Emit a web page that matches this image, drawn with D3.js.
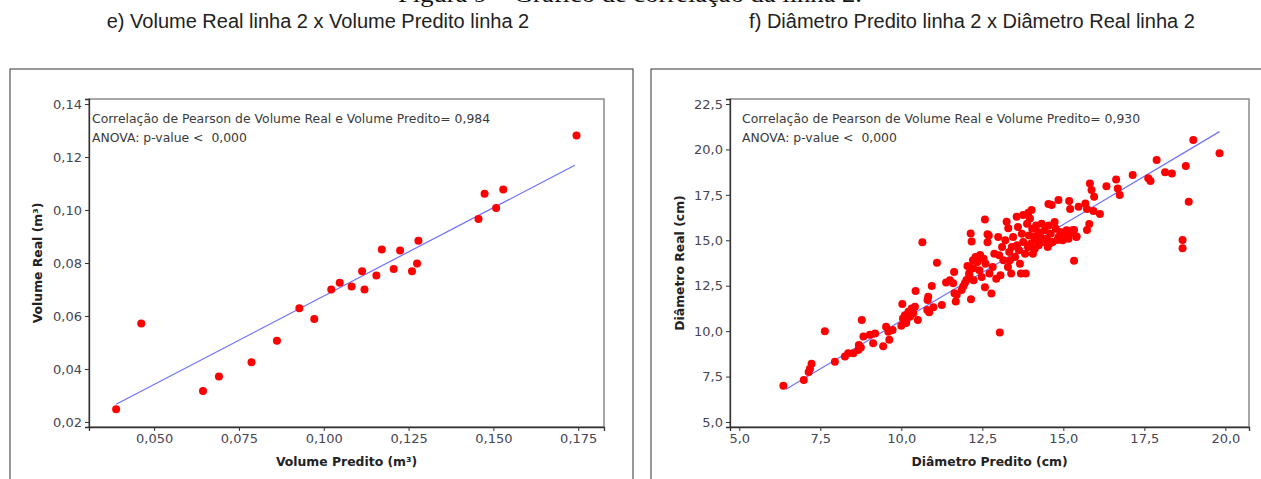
<!DOCTYPE html>
<html>
<head>
<meta charset="utf-8">
<script src="https://cdn.jsdelivr.net/npm/d3@7"></script>
<style>
  body { margin: 0; background: #fff; }
  svg { display: block; }
</style>
</head>
<body>
<svg id="chart" width="1261" height="479"></svg>
<script>
// ---- dados ----
// e) volume
const volPredito = [0.0388, 0.0462, 0.0644, 0.0691, 0.0787, 0.0862, 0.0928, 0.0972, 0.1022, 0.1047,
  0.1082, 0.1113, 0.1120, 0.1155, 0.1171, 0.1206, 0.1225, 0.1260, 0.1275, 0.1279,
  0.1456, 0.1474, 0.1508, 0.1529, 0.1745]
const volReal = [0.0248, 0.0572, 0.0317, 0.0372, 0.0425, 0.0507, 0.0629, 0.0589, 0.0700, 0.0725,
  0.0711, 0.0769, 0.0700, 0.0753, 0.0851, 0.0777, 0.0847, 0.0769, 0.0798, 0.0884,
  0.0966, 0.1061, 0.1008, 0.1077, 0.1281]
const volAjuste = [[0.0388, 0.0267], [0.1740, 0.1169]]
const volXTicks = [0.05, 0.075, 0.1, 0.125, 0.15, 0.175]
const volYTicks = [0.02, 0.04, 0.06, 0.08, 0.10, 0.12, 0.14]

// f) diametro [predito, real]
const diamPontos = [
  [6.36,7.00],[6.99,7.31],[7.14,7.75],[7.18,7.93],[7.23,8.20],[7.64,10.00],[7.95,8.32],[8.26,8.60],
  [8.36,8.78],[8.52,8.78],[8.67,8.96],[8.69,9.24],[8.75,9.10],[8.78,10.61],[8.83,9.71],[9.03,9.80],
  [9.13,9.33],[9.19,9.87],[9.44,9.17],[9.53,10.24],[9.60,9.97],[9.63,9.52],[9.73,10.06],[10.00,10.30],
  [10.03,11.49],[10.05,10.70],[10.11,10.88],[10.15,10.45],[10.16,10.61],[10.22,11.07],[10.27,10.80],
  [10.32,11.25],[10.37,10.98],[10.42,11.34],[10.51,10.61],[10.44,12.21],[10.65,14.89],[10.80,11.16],
  [10.81,11.71],[10.83,11.89],[10.86,11.04],[10.94,12.48],[10.99,11.31],[11.10,13.77],[11.25,11.44],
  [11.38,12.68],[11.50,12.80],[11.63,13.26],[11.60,12.64],[11.64,12.09],[11.68,11.63],[11.71,12.00],
  [11.86,12.27],[11.91,12.46],[11.96,12.64],[12.01,12.82],[12.04,13.59],[12.10,13.09],[12.14,15.38],
  [12.17,14.93],[12.15,11.75],[12.22,13.46],[12.27,13.92],[12.32,14.06],[12.43,14.19],[12.58,16.15],
  [12.58,12.42],[12.66,15.33],[12.66,14.89],
  [12.11,13.53],[12.21,13.90],[12.29,14.08],[12.35,13.81],[12.41,13.35],[12.48,12.98],[12.09,13.17],
  [12.23,12.80],[12.54,13.99],[12.60,13.71],[12.70,15.27],[12.72,13.17],[12.78,12.07],[12.82,13.53],
  [12.87,14.26],[12.93,12.89],[12.99,15.18],[13.02,14.17],[13.06,13.07],[13.11,14.63],[13.15,13.90],
  [13.21,15.00],[13.29,13.53],[13.33,14.35],[13.35,13.90],[13.39,13.17],[13.41,14.63],[13.45,15.18],
  [13.51,14.08],[13.57,14.72],[13.60,15.73],[13.63,14.45],[13.66,13.71],[13.69,13.17],[13.72,15.36],
  [13.76,14.90],[13.82,14.26],[13.84,13.17],[13.88,15.91],[13.91,14.63],[13.94,15.27],[14.00,14.81],
  [14.04,15.64],[14.06,14.26],[14.09,15.18],[14.12,14.54],[14.16,15.82],[14.18,15.00],[14.22,15.45],
  [14.24,14.72],[14.30,15.18],[14.33,15.91],[14.37,14.90],[14.43,15.55],[14.49,15.09],[14.52,14.63],
  [14.55,15.82],[14.61,15.36],[14.67,14.90],[14.73,16.00],[14.77,15.64],[14.85,15.18],[14.91,15.45],
  [14.98,15.00],[15.04,15.27],[15.10,15.55],[15.16,15.09],[15.28,15.55],[15.40,15.18],
  [19.01,20.52],[19.82,19.79],[17.88,19.42],[18.78,19.09],[18.14,18.74],[18.35,18.68],[17.14,18.59],
  [17.62,18.41],[17.69,18.26],[18.87,17.12],[18.68,15.01],[18.68,14.56],[15.82,18.13],[15.87,17.77],
  [15.95,17.40],[16.63,18.35],[16.68,17.85],[16.74,17.49],[16.33,17.98],[14.85,17.22],[14.54,17.00],
  [14.64,16.94],[15.18,17.16],[15.21,16.72],[15.47,16.85],[15.68,17.03],[15.73,16.72],[15.93,16.61],
  [16.13,16.44],[15.80,15.90],[15.73,15.57],[15.33,13.88],[15.33,15.57],[15.41,15.21],[15.21,15.39],
  [15.00,15.21],[14.82,15.02],[14.59,14.84],[13.04,9.93],[13.25,16.02],[13.30,15.66],[13.56,16.30],
  [13.76,16.39],[13.92,16.52],[14.02,16.66],[13.97,16.20]
]
const diamAjuste = [[6.44, 6.80], [19.82, 20.98]]
const diamXTicks = [5, 7.5, 10, 12.5, 15, 17.5, 20]
const diamYTicks = [5, 7.5, 10, 12.5, 15, 17.5, 20, 22.5]

const ptBR = d3.formatLocale({decimal: ",", thousands: ".", grouping: [3], currency: ["R$", ""]})

const svg = d3.select('#chart')

// legenda da figura, cortada no topo da imagem
svg.append('text')
  .text('Figura 9 – Gráfico de correlação da linha 2.')
  .attr('x', 630).attr('y', 2)
  .attr('text-anchor', 'middle')
  .attr('font-family', 'Liberation Serif')
  .attr('font-size', '24px')
  .attr('textLength', 464)
  .attr('lengthAdjust', 'spacingAndGlyphs')
  .attr('fill', '#111')

function painel(cfg) {
  const g = svg.append('g')

  // moldura externa
  g.append('rect')
    .attr('x', cfg.box[0]).attr('y', 69)
    .attr('width', cfg.box[1]).attr('height', 440)
    .attr('fill', 'none').attr('stroke', '#333').attr('stroke-width', 1)

  // subtitulo
  g.append('text').text(cfg.titulo)
    .attr('x', cfg.tituloX).attr('y', 28)
    .attr('text-anchor', 'middle')
    .attr('font-family', 'Liberation Sans')
    .attr('font-size', '20px')
    .attr('fill', '#222')

  const x = d3.scaleLinear().domain(cfg.xDom).range([cfg.left, cfg.right])
  const y = d3.scaleLinear().domain(cfg.yDom).range([427, 99])

  // area do grafico
  g.append('rect')
    .attr('x', cfg.left).attr('y', 99)
    .attr('width', cfg.right - cfg.left).attr('height', 328)
    .attr('fill', '#fff').attr('stroke', '#8a8a8a').attr('stroke-width', 1.5)

  const xAxis = d3.axisBottom(x).tickValues(cfg.xTicks).tickFormat(ptBR.format(cfg.xFmt))
    .tickSizeOuter(0).tickSize(4).tickPadding(3)
  const yAxis = d3.axisLeft(y).tickValues(cfg.yTicks).tickFormat(ptBR.format(cfg.yFmt))
    .tickSizeOuter(0).tickSize(4).tickPadding(3)

  const gx = g.append('g').attr('transform', 'translate(0,427)').call(xAxis)
  const gy = g.append('g').attr('transform', `translate(${cfg.left},0)`).call(yAxis)
  for (const a of [gx, gy]) {
    a.select('.domain').attr('stroke', '#333').attr('stroke-width', 1.3)
    a.selectAll('.tick line').attr('stroke', '#333')
    a.selectAll('.tick text')
      .attr('font-family', 'DejaVu Sans')
      .attr('font-size', '13px')
      .attr('fill', '#454555')
  }

  // linha de ajuste
  g.append('line')
    .attr('x1', x(cfg.ajuste[0][0])).attr('y1', y(cfg.ajuste[0][1]))
    .attr('x2', x(cfg.ajuste[1][0])).attr('y2', y(cfg.ajuste[1][1]))
    .attr('stroke', '#7070ff').attr('stroke-width', 1.2)

  // pontos
  g.append('g').selectAll('circle')
    .data(cfg.pontos)
    .join('circle')
    .attr('cx', d => x(d[0]))
    .attr('cy', d => y(d[1]))
    .attr('r', 4)
    .attr('fill', '#ff0000')

  // anotacoes
  g.append('text').text(cfg.nota)
    .attr('x', cfg.left + cfg.notaDx).attr('y', 123)
    .attr('font-family', 'DejaVu Sans').attr('font-size', '12.4px').attr('fill', '#3a3a3a')
  g.append('text').text('ANOVA: p-value <  0,000')
    .attr('x', cfg.left + cfg.notaDx).attr('y', 142)
    .style('white-space', 'pre')
    .attr('font-family', 'DejaVu Sans').attr('font-size', '12.4px').attr('fill', '#3a3a3a')

  // titulos dos eixos
  g.append('text').text(cfg.xTitulo)
    .attr('x', (cfg.left + cfg.right) / 2).attr('y', 466)
    .attr('text-anchor', 'middle')
    .attr('font-family', 'DejaVu Sans').attr('font-weight', 'bold')
    .attr('font-size', '12.4px').attr('fill', '#222')
  g.append('text').text(cfg.yTitulo)
    .attr('transform', `translate(${cfg.yTituloX},263) rotate(-90)`)
    .attr('text-anchor', 'middle')
    .attr('font-family', 'DejaVu Sans').attr('font-weight', 'bold')
    .attr('font-size', '12.4px').attr('fill', '#222')
}

painel({
  box: [10, 623], titulo: 'e) Volume Real linha 2 x Volume Predito linha 2', tituloX: 318,
  left: 89, right: 604, xDom: [0.0308, 0.1826], yDom: [0.0181, 0.1419],
  xTicks: volXTicks, yTicks: volYTicks, xFmt: '.3f', yFmt: '.2f',
  pontos: volPredito.map((v, i) => [v, volReal[i]]), ajuste: volAjuste,
  nota: 'Correlação de Pearson de Volume Real e Volume Predito= 0,984', notaDx: 3,
  xTitulo: 'Volume Predito (m³)', yTitulo: 'Volume Real (m³)', yTituloX: 42
})

painel({
  box: [651, 640], titulo: 'f) Diâmetro Predito linha 2 x Diâmetro Real linha 2', tituloX: 972,
  left: 730, right: 1249, xDom: [4.713, 20.73], yDom: [4.725, 22.775],
  xTicks: diamXTicks, yTicks: diamYTicks, xFmt: '.1f', yFmt: '.1f',
  pontos: diamPontos, ajuste: diamAjuste,
  nota: 'Correlação de Pearson de Volume Real e Volume Predito= 0,930', notaDx: 12,
  xTitulo: 'Diâmetro Predito (cm)', yTitulo: 'Diâmetro Real (cm)', yTituloX: 684
})
</script>
</body>
</html>
